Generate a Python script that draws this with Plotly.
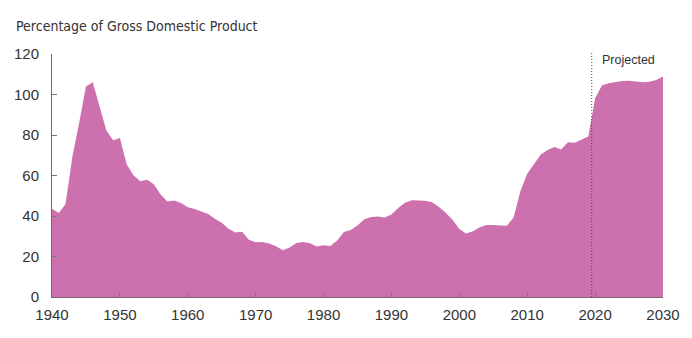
import plotly.graph_objects as go

# Federal debt held by the public, percentage of GDP (fiscal years)
years = list(range(1940, 2031))
debt_pct = [
    43.6, 41.5, 45.9, 69.2, 86.0, 103.9, 106.1, 93.9, 82.4, 77.4,   # 1940s
    78.5, 65.5, 60.1, 57.1, 57.9, 55.7, 50.6, 47.2, 47.7, 46.4,     # 1950s
    44.3, 43.5, 42.3, 41.0, 38.7, 36.7, 33.7, 31.8, 32.2, 28.3,     # 1960s
    27.0, 27.1, 26.4, 25.1, 23.1, 24.5, 26.7, 27.1, 26.6, 24.9,     # 1970s
    25.5, 25.2, 27.9, 32.1, 33.1, 35.3, 38.4, 39.5, 39.8, 39.3,     # 1980s
    40.8, 44.0, 46.6, 47.8, 47.7, 47.5, 46.8, 44.5, 41.6, 38.2,     # 1990s
    33.6, 31.4, 32.5, 34.5, 35.5, 35.6, 35.3, 35.2, 39.3, 52.3,     # 2000s
    60.9, 65.9, 70.4, 72.6, 74.1, 72.9, 76.4, 76.2, 77.6, 79.2,     # 2010s
    98.2, 104.4, 105.6, 106.3, 106.7, 106.8, 106.4, 106.0, 106.3, 107.2,  # 2020s
    108.9,
]

projection_start = 2019.5
y_ticks = [0, 20, 40, 60, 80, 100, 120]
x_ticks = [1940, 1950, 1960, 1970, 1980, 1990, 2000, 2010, 2020, 2030]

fill_color = "#CC70AE"
text_color = "#333333"

fig = go.Figure()
fig.add_trace(go.Scatter(
    x=years, y=debt_pct, mode="lines", fill="tozeroy",
    fillcolor=fill_color, line=dict(width=0, color=fill_color),
    hoverinfo="x+y", showlegend=False,
))

# Boundary between actual and projected values
fig.add_shape(
    type="line", xref="x", yref="paper",
    x0=projection_start, x1=projection_start, y0=0, y1=1.01,
    line=dict(color="#444444", width=1, dash="1px,2px"),
)
fig.add_annotation(
    x=projection_start, xref="x", xanchor="left", xshift=8,
    y=1.0, yref="paper", yanchor="middle", yshift=-6,
    text="Projected", showarrow=False,
    font=dict(family="Liberation Sans", size=12.5, color=text_color),
)

fig.update_layout(
    width=692, height=338,
    margin=dict(l=52, r=25, t=54, b=41),
    paper_bgcolor="white", plot_bgcolor="white",
    title=dict(
        text="Percentage of Gross Domestic Product",
        xref="container", x=16 / 692, xanchor="left",
        yref="container", y=1 - 26 / 338, yanchor="middle",
        font=dict(family="DejaVu Sans Condensed, Liberation Sans Narrow, Lato, sans-serif",
                  size=14, color=text_color),
    ),
    xaxis=dict(
        range=[1940, 2030], tickvals=x_ticks, ticks="inside", ticklen=4,
        tickcolor="#777777", showline=True, linecolor="#7a6272", linewidth=1,
        showgrid=False, zeroline=False, layer="above traces",
        ticklabelstandoff=4,
        tickfont=dict(family="Liberation Sans", size=15, color=text_color),
    ),
    yaxis=dict(
        range=[0, 120], tickvals=y_ticks, ticks="inside", ticklen=5,
        tickcolor="#777777", showline=True, linecolor="#6e6e6e", linewidth=1,
        showgrid=False, zeroline=False, layer="above traces",
        ticklabelstandoff=9,
        tickfont=dict(family="Liberation Sans", size=15, color=text_color),
    ),
)

fig.write_html("out.html")
